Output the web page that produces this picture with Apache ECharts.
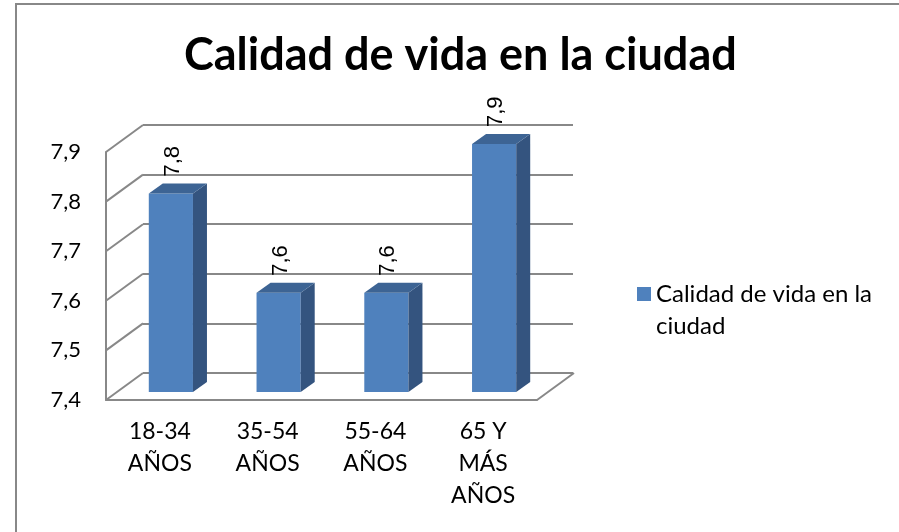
<!DOCTYPE html>
<html>
<head>
<meta charset="utf-8">
<script src="https://cdn.jsdelivr.net/npm/echarts@6/dist/echarts.min.js"></script>
<style>
  html, body { margin: 0; padding: 0; background: #fff; }
  #main { width: 899px; height: 532px; }
</style>
</head>
<body>
<div id="main"></div>
<script>
// datos
var categories = ['18-34\nAÑOS', '35-54\nAÑOS', '55-64\nAÑOS', '65 Y\nMÁS\nAÑOS'];
var values = [7.8, 7.6, 7.6, 7.9];
var valueLabels = ['7,8', '7,6', '7,6', '7,9'];
var yTicks = [7.4, 7.5, 7.6, 7.7, 7.8, 7.9];
var yTickLabels = ['7,4', '7,5', '7,6', '7,7', '7,8', '7,9'];
var seriesName = 'Calidad de vida en la ciudad';

var FONT = 'Lato';
var GRAY = '#888888';
// profundidad del piso (frente -> fondo)
var DX = 37, DY = -27;
// profundidad de las barras
var BDX = 14, BDY = -10;

var myChart = echarts.init(document.getElementById('main'));

function renderFrame(params, api) {
  var cs = params.coordSys;
  var y = api.coord([0, api.value(1)])[1];
  var style = { stroke: GRAY, lineWidth: 2 };
  var children = [{
    type: 'line',
    shape: { x1: cs.x, y1: y, x2: cs.x + DX, y2: y + DY },
    style: style
  }];
  if (params.dataIndex === 0) {
    children.push({
      type: 'line',
      shape: { x1: cs.x + cs.width, y1: y, x2: cs.x + cs.width + DX, y2: y + DY },
      style: style
    });
  }
  return { type: 'group', children: children };
}

function renderBar(params, api) {
  var i = params.dataIndex;
  var top = api.coord([api.value(0), api.value(1)]);
  var base = api.coord([api.value(0), yTicks[0]]);
  var w = api.size([1, 0])[0] * 0.41;
  var x0 = top[0] - w / 2, x1 = top[0] + w / 2;
  var yt = top[1], yb = base[1];
  return {
    type: 'group',
    children: [{
      type: 'rect',
      shape: { x: x0, y: yt, width: w, height: yb - yt },
      style: { fill: '#4F81BD' }
    }, {
      type: 'polygon',
      shape: { points: [[x1, yt], [x1 + BDX, yt + BDY], [x1 + BDX, yb + BDY], [x1, yb]] },
      style: { fill: '#34547F' }
    }, {
      type: 'polygon',
      shape: { points: [[x0, yt], [x0 + BDX, yt + BDY], [x1 + BDX, yt + BDY], [x1, yt]] },
      style: { fill: '#3D6494' }
    }, {
      type: 'text',
      x: top[0] + 2,
      y: yt + BDY - 7,
      rotation: Math.PI / 2,
      style: {
        text: valueLabels[i],
        align: 'left',
        verticalAlign: 'middle',
        fontSize: 22,
        fontFamily: 'Liberation Sans',
        fill: '#000'
      }
    }]
  };
}

var valueAxisBase = { type: 'value', min: 7.4, max: 7.9, interval: 0.1 };

var option = {
  animation: false,
  title: {
    text: seriesName,
    left: 179,
    top: 28,
    textStyle: { fontFamily: FONT, fontWeight: 'bold', fontSize: 45, color: '#000' }
  },
  legend: {
    data: [seriesName],
    left: 632,
    top: 241,
    icon: 'rect',
    itemWidth: 14,
    itemHeight: 14,
    itemGap: 0,
    formatter: function () { return '\nCalidad de vida en la\nciudad'; },
    textStyle: { fontFamily: FONT, fontSize: 24, lineHeight: 32, color: '#000' }
  },
  graphic: [{
    type: 'rect',
    shape: { x: 16, y: 4, width: 900, height: 560 },
    style: { fill: null, stroke: GRAY, lineWidth: 2 },
    silent: true
  }],
  grid: [
    { left: 106, top: 152, width: 431, height: 248, outerBoundsMode: 'none' },
    { left: 117, top: 144, width: 431, height: 248, outerBoundsMode: 'none' },
    { left: 143, top: 125, width: 430, height: 248, outerBoundsMode: 'none' }
  ],
  xAxis: [{
    gridIndex: 0,
    type: 'category',
    data: categories,
    axisLine: { lineStyle: { color: GRAY, width: 2 } },
    axisTick: { show: false },
    axisLabel: { interval: 0, margin: 16, fontFamily: FONT, fontSize: 23, lineHeight: 32, color: '#000' }
  }, {
    gridIndex: 1,
    type: 'category',
    data: categories,
    show: false
  }, {
    gridIndex: 2,
    type: 'category',
    data: categories,
    show: false
  }],
  yAxis: [Object.assign({}, valueAxisBase, {
    gridIndex: 0,
    axisLine: { show: true, lineStyle: { color: GRAY, width: 2 } },
    axisTick: { show: false },
    splitLine: { show: false },
    axisLabel: {
      margin: 25,
      fontFamily: FONT,
      fontSize: 22,
      color: '#000',
      formatter: function (v) {
        return yTickLabels[Math.round((v - yTicks[0]) * 10)];
      }
    }
  }), Object.assign({}, valueAxisBase, {
    gridIndex: 1,
    show: false
  }), Object.assign({}, valueAxisBase, {
    gridIndex: 2,
    axisLine: { show: false },
    axisTick: { show: false },
    axisLabel: { show: false },
    splitLine: { lineStyle: { color: GRAY, width: 2 } }
  })],
  series: [{
    name: 'marco',
    type: 'custom',
    xAxisIndex: 0,
    yAxisIndex: 0,
    silent: true,
    renderItem: renderFrame,
    data: yTicks.map(function (v) { return [0, v]; })
  }, {
    name: seriesName,
    type: 'custom',
    xAxisIndex: 1,
    yAxisIndex: 1,
    itemStyle: { color: '#4F81BD' },
    renderItem: renderBar,
    encode: { x: 0, y: 1 },
    data: values.map(function (v, i) { return [i, v]; })
  }]
};

myChart.setOption(option);
</script>
</body>
</html>
